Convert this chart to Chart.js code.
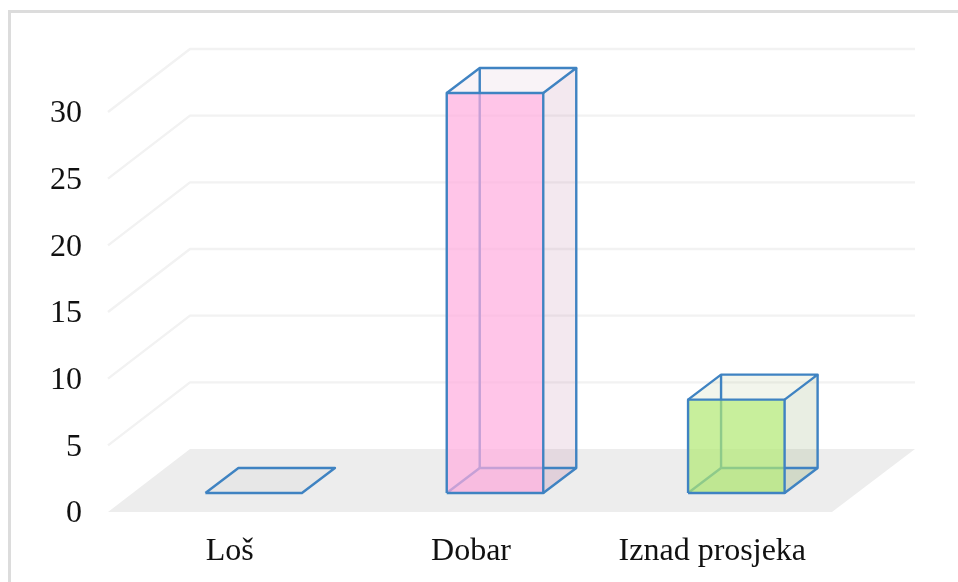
<!DOCTYPE html>
<html><head><meta charset="utf-8">
<style>
html,body{margin:0;padding:0;background:#fff;overflow:hidden}
#frame{position:absolute;left:8px;top:10px;width:960px;height:600px;border:3px solid #dcdcdc;box-sizing:border-box}
canvas{position:absolute;left:0;top:0;filter:blur(0.35px)}
</style>
<script src="https://cdn.jsdelivr.net/npm/chart.js@4"></script>
</head><body>
<div id="frame"></div>
<canvas id="c" width="958" height="582"></canvas>
<script>
const categories = ["Loš", "Dobar", "Iznad prosjeka"];
const values = [0, 30, 7];
const yTicks = [0, 5, 10, 15, 20, 25, 30];
const frontFill = ["rgba(255,172,222,0)", "rgba(255,172,222,0.7)", "rgba(176,232,114,0.7)"];
const sideFill = ["rgba(0,0,0,0)", "rgba(195,140,175,0.2)", "rgba(145,170,115,0.2)"];
const topFill = ["rgba(0,0,0,0.02)", "rgba(225,195,215,0.2)", "rgba(190,205,160,0.2)"];
const bottomFill = ["rgba(0,0,0,0.025)", "rgba(195,140,175,0.12)", "rgba(145,170,115,0.12)"];

const EDGE = "#3f83c2", GRID = "#f2f2f2", FLOOR = "#ededed";
const WALL = {dx: 82, dy: -63};      // depth of the whole plot box
const BAR_OFF = {dx: 25, dy: -19};   // bar front inside the floor
const BAR_DEPTH = {dx: 33, dy: -25};

function poly(ctx, pts, fill, stroke) {
  ctx.beginPath();
  pts.forEach((p, i) => i ? ctx.lineTo(p[0], p[1]) : ctx.moveTo(p[0], p[1]));
  if (fill) { ctx.closePath(); ctx.fillStyle = fill; ctx.fill(); }
  if (stroke) { ctx.strokeStyle = stroke; ctx.lineWidth = 2.4; ctx.lineJoin = "round"; ctx.stroke(); }
}
function boxOf(el) {
  const l = el.x - el.width / 2 + BAR_OFF.dx, r = el.x + el.width / 2 + BAR_OFF.dx;
  const t = el.y + BAR_OFF.dy, b = el.base + BAR_OFF.dy;
  return {l, r, t, b, dx: BAR_DEPTH.dx, dy: BAR_DEPTH.dy};
}

const box3d = {
  id: "box3d",
  beforeDatasetsDraw(chart) {
    const {ctx, chartArea: a, scales: {y}} = chart;
    const b0 = y.getPixelForValue(0);
    ctx.save();
    poly(ctx, [[a.left, b0], [a.left + WALL.dx, b0 + WALL.dy], [a.right + WALL.dx + 1, b0 + WALL.dy], [a.right, b0]], FLOOR);
    ctx.lineCap = "butt";
    y.ticks.forEach(t => {
      if (t.value === 0) return;
      const p = y.getPixelForValue(t.value);
      poly(ctx, [[a.left, p], [a.left + WALL.dx, p + WALL.dy], [a.right + WALL.dx + 1, p + WALL.dy]], null, GRID);
    });
    chart.getDatasetMeta(0).data.forEach((el, i) => {
      const q = boxOf(el), {l, r, t, b, dx, dy} = q;
      poly(ctx, [[l, b], [l + dx, b + dy], [r + dx, b + dy], [r, b]], bottomFill[i]);
      if (values[i] > 0) {
        poly(ctx, [[r, b], [r + dx, b + dy], [r + dx, t + dy], [r, t]], sideFill[i]);
        poly(ctx, [[l, t], [l + dx, t + dy], [r + dx, t + dy], [r, t]], topFill[i]);
        // hidden edges, later veiled by the translucent front
        poly(ctx, [[l, b], [l + dx, b + dy], [r + dx, b + dy]], null, EDGE);
        poly(ctx, [[l + dx, b + dy], [l + dx, t + dy]], null, EDGE);
      }
    });
    ctx.restore();
  },
  beforeDatasetDraw(chart) {
    chart.ctx.save();
    chart.ctx.translate(BAR_OFF.dx, BAR_OFF.dy);
  },
  afterDatasetDraw(chart) {
    chart.ctx.restore();
  },
  afterDatasetsDraw(chart) {
    const {ctx} = chart;
    ctx.save();
    chart.getDatasetMeta(0).data.forEach((el, i) => {
      const {l, r, t, b, dx, dy} = boxOf(el);
      if (values[i] > 0) {
        poly(ctx, [[l, b], [l, t], [r, t], [r, b], [l, b]], null, EDGE);
        poly(ctx, [[l, t], [l + dx, t + dy], [r + dx, t + dy], [r, t]], null, EDGE);
        poly(ctx, [[r + dx, t + dy], [r + dx, b + dy], [r, b]], null, EDGE);
      } else {
        poly(ctx, [[l, b], [l + dx, b + dy], [r + dx, b + dy], [r, b], [l, b]], null, EDGE);
      }
    });
    ctx.restore();
  }
};

new Chart(document.getElementById("c"), {
  type: "bar",
  data: {
    labels: categories,
    datasets: [{
      data: values,
      backgroundColor: frontFill,
      borderWidth: 0,
      categoryPercentage: 1,
      barPercentage: 0.4,
      clip: false
    }]
  },
  options: {
    responsive: false,
    animation: false,
    layout: {padding: {top: 112, right: 126, left: 0, bottom: 0}},
    plugins: {legend: {display: false}, tooltip: {enabled: false}, title: {display: false}},
    scales: {
      x: {
        grid: {display: false, drawTicks: false},
        border: {display: false},
        ticks: {
          color: "#111",
          padding: 20,
          labelOffset: 1,
          maxRotation: 0,
          font: {family: "'Liberation Serif', 'Times New Roman', serif", size: 32}
        },
        afterFit(s) { s.height = 70; }
      },
      y: {
        min: 0,
        max: 30,
        afterBuildTicks(s) { s.ticks = yTicks.map(v => ({value: v})); },
        grid: {display: false, drawTicks: false},
        border: {display: false},
        ticks: {
          color: "#111",
          padding: 26,
          labelOffset: 2,
          font: {family: "'Liberation Serif', 'Times New Roman', serif", size: 32}
        },
        afterFit(s) { s.width = 108; }
      }
    }
  },
  plugins: [box3d]
});
</script>
</body></html>
